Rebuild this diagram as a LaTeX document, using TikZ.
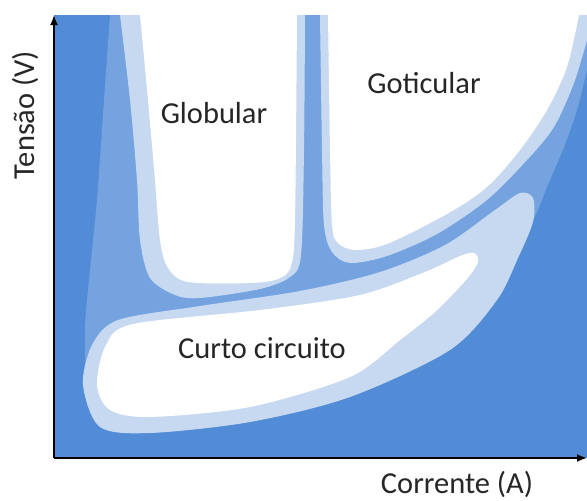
\documentclass[tikz,border=0pt]{standalone}
\usepackage{fontspec}
\setmainfont{Carlito}
\usetikzlibrary{arrows.meta}
\definecolor{deep}{HTML}{538CD6}
\definecolor{mid}{HTML}{74A3E0}
\definecolor{pale}{HTML}{C6D9F1}
\tikzset{
  lbl/.style={font=\fontsize{26}{30}\selectfont,text=black!85},
  axis/.style={-{Latex[length=3mm,width=2.4mm]},line width=1.6pt},
}
\begin{document}
\begin{tikzpicture}[x=0.03cm,y=-0.03cm]
\useasboundingbox (0,0) rectangle (587,500);
\fill[deep] (54,15) rectangle (587,458);
% transition region
\fill[mid] (587,15) -- (110,15) -- plot[smooth] coordinates {(110,15) (104,100) (97,200) (90,270) (85,330) (88,390) (105,420) (150,425) (250,413) (350,388) (450,340) (505,280) (527,232) (537,212) (547,187) (564,147) (577,110) (587,70)} -- cycle;
% curto circuito
\fill[pale] plot[smooth cycle] coordinates {(83,385) (92,345) (118,320) (200,306) (300,291) (380,272) (445,245) (495,210) (520,193) (533,198) (533,222) (518,258) (497,300) (450,350) (350,397) (250,422) (150,433) (100,427)};
\fill[white] plot[smooth cycle] coordinates {(97,385) (106,345) (133,324) (260,310) (360,295) (425,272) (460,256) (474,253) (478,262) (466,280) (435,312) (400,340) (350,377) (250,407) (150,417) (110,410)};
% globular
\fill[pale] (120,15) -- plot[smooth] coordinates {(120,15) (130,100) (137,180) (140,240) (150,278) (175,295) (200,298) (260,289) (290,277) (301,255) (304,150) (305,15)} -- cycle;
\fill[white] (140,15) -- plot[smooth] coordinates {(140,15) (148,100) (155,180) (160,240) (168,268) (188,282) (250,283) (278,279) (291,266) (295,220) (297,15)} -- cycle;
% goticular
\fill[pale] (320,15) -- plot[smooth] coordinates {(320,15) (322,150) (324,225) (332,252) (350,263) (387,256) (437,234) (487,200) (527,160) (554,127) (574,83) (587,40)} -- (587,15) -- cycle;
\fill[white] (328,15) -- plot[smooth] coordinates {(328,15) (330,150) (332,225) (338,243) (355,250) (387,244) (447,214) (487,187) (520,150) (547,110) (567,67) (579,15)} -- cycle;

\node[lbl] (glob) at (214,113) {Globular};
\node[lbl] (gotic) at (424,83) {Goticular};
\node[lbl] (curto) at (262,348) {Curto circuito};
\node[lbl,rotate=90] (ylab) at (25,115) {Tensão (V)};
\node[lbl] (xlab) at (457,484) {Corrente (A)};

\coordinate (o) at (54,458);
\coordinate (ytip) at (54,15);
\coordinate (xtip) at (587,458);
\draw[axis] (o) -- (ytip);
\draw[axis] (o) -- (xtip);
\end{tikzpicture}
\end{document}
